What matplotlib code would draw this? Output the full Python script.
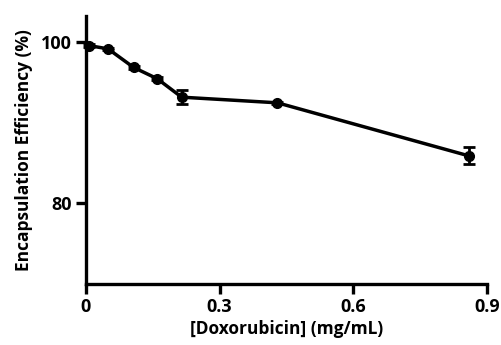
import matplotlib
matplotlib.use("Agg")
import matplotlib.pyplot as plt
import numpy as np

# data
dox = [0.008, 0.05, 0.107, 0.16, 0.215, 0.43, 0.86]
ee = [99.6, 99.2, 96.9, 95.5, 93.2, 92.5, 85.9]
ee_err = [0.15, 0.15, 0.15, 0.15, 0.9, 0.15, 1.05]
xticks = [0, 0.3, 0.6, 0.9]
xticklabels = ["0", "0.3", "0.6", "0.9"]
yticks = [80, 100]

plt.rcParams['font.family'] = ['Open Sans', 'DejaVu Sans']
plt.rcParams['font.weight'] = 'bold'

fig = plt.figure(figsize=(5.02, 3.45), dpi=100)
ax = fig.add_axes([0.171, 0.177, 0.799, 0.777])

ax.errorbar(dox, ee, yerr=ee_err, color='black', lw=2.5, marker='o', ms=7,
            capsize=4.5, capthick=2, elinewidth=2, clip_on=False, zorder=3)

ax.set_xlim(0, 0.9)
ax.set_ylim(70, 103.3)
ax.set_xticks(xticks)
ax.set_xticklabels(xticklabels)
ax.set_yticks(yticks)

for s in ['top', 'right']:
    ax.spines[s].set_visible(False)
for s in ['left', 'bottom']:
    ax.spines[s].set_linewidth(2.4)

ax.tick_params(width=2.4, length=7, labelsize=13, pad=3)
for lab in ax.get_xticklabels() + ax.get_yticklabels():
    lab.set_fontweight('bold')

ax.set_xlabel('[Doxorubicin] (mg/mL)', fontsize=12.5, fontweight='bold', labelpad=3)
ax.set_ylabel('Encapsulation Efficiency (%)', fontsize=12.5, fontweight='bold', labelpad=6)

fig.savefig('out.png', dpi=100)
